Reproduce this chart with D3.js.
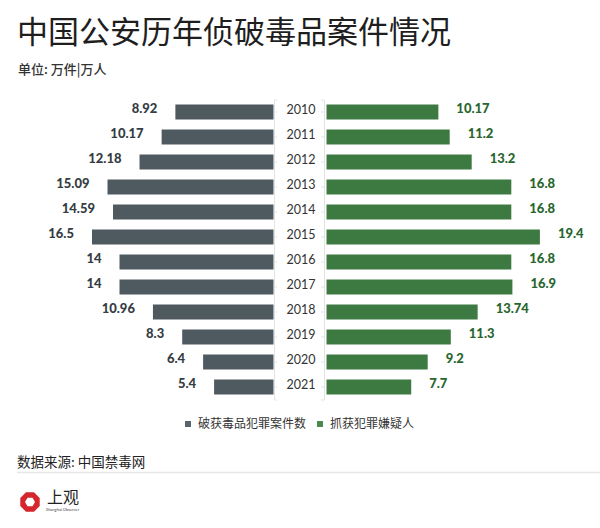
<!DOCTYPE html>
<html><head><meta charset="utf-8">
<script src="https://cdn.jsdelivr.net/npm/d3@7"></script>
<style>
html,body{margin:0;padding:0;background:#fff;}
svg{display:block;}
</style></head>
<body>
<svg id="chart" width="600" height="528"></svg>
<script>
const years = ["2010","2011","2012","2013","2014","2015","2016","2017","2018","2019","2020","2021"];
const cases = [8.92,10.17,12.18,15.09,14.59,16.5,14,14,10.96,8.3,6.4,5.4];
const suspects = [10.17,11.2,13.2,16.8,16.8,19.4,16.8,16.9,13.74,11.3,9.2,7.7];
const caseLabels = ["8.92","10.17","12.18","15.09","14.59","16.5","14","14","10.96","8.3","6.4","5.4"];
const suspectLabels = ["10.17","11.2","13.2","16.8","16.8","19.4","16.8","16.9","13.74","11.3","9.2","7.7"];
const seriesNames = ["破获毒品犯罪案件数","抓获犯罪嫌疑人"];
const title = "中国公安历年侦破毒品案件情况";
const subtitle = "单位: 万件|万人";
const source = "数据来源: 中国禁毒网";

const svg = d3.select("#chart");
const cjk = "'Noto Sans CJK SC','Noto Sans',sans-serif";
const num = "Lato,'Open Sans',sans-serif";
const grayBar = "#4e5a60", greenBar = "#3d7a42";
const grayText = "#353c43", greenText = "#28662e";

svg.append("text").attr("x",17).attr("y",43).attr("font-family",cjk).attr("font-size",31)
  .attr("fill","#1e1e1e").text(title);
svg.append("text").attr("x",18).attr("y",74).attr("font-family",cjk).attr("font-size",13)
  .attr("fill","#333").attr("font-weight",500).text(subtitle);

const y = d3.scaleBand().domain(years).range([99.5,399.5]).paddingInner(0.4).paddingOuter(0.2);
const xL = d3.scaleLinear().domain([0,20]).range([273.5,53.5]);
const xR = d3.scaleLinear().domain([0,20]).range([326.5,546.5]);

// axes lines (faint)
const axL = d3.axisRight(y).tickSize(3).tickFormat("");
const gL = svg.append("g").attr("transform","translate(274,0)").call(axL);
const axR = d3.axisLeft(y).tickSize(3).tickFormat("");
const gR = svg.append("g").attr("transform","translate(324,0)").call(axR);
[gL,gR].forEach(g=>{g.selectAll("path,line").attr("stroke","#e3e3e3");});

svg.append("g").selectAll("rect").data(cases).join("rect")
  .attr("x",d=>xL(d)).attr("y",(d,i)=>y(years[i]))
  .attr("width",d=>xL(0)-xL(d)).attr("height",y.bandwidth()).attr("fill",grayBar);
svg.append("g").selectAll("rect").data(suspects).join("rect")
  .attr("x",xR(0)).attr("y",(d,i)=>y(years[i]))
  .attr("width",d=>xR(d)-xR(0)).attr("height",y.bandwidth()).attr("fill",greenBar);

svg.append("g").selectAll("text").data(cases).join("text")
  .attr("x",d=>xL(d)-18).attr("y",(d,i)=>y(years[i])+8.5)
  .attr("text-anchor","end").attr("font-family",num).attr("font-weight",900)
  .attr("font-size",13).attr("fill",grayText).text((d,i)=>caseLabels[i]);
svg.append("g").selectAll("text").data(suspects).join("text")
  .attr("x",d=>xR(d)+18).attr("y",(d,i)=>y(years[i])+8.5)
  .attr("text-anchor","start").attr("font-family",num).attr("font-weight",900)
  .attr("font-size",13).attr("fill",greenText).text((d,i)=>suspectLabels[i]);
svg.append("g").selectAll("text").data(years).join("text")
  .attr("x",301).attr("y",d=>y(d)+9)
  .attr("text-anchor","middle").attr("font-family",num)
  .attr("font-size",12.5).attr("fill","#333").text(d=>d);

// legend
const leg = [{n:seriesNames[0],c:"#5a656b",x:185},{n:seriesNames[1],c:"#4a8a4e",x:317}];
leg.forEach(l=>{
  svg.append("rect").attr("x",l.x).attr("y",421).attr("width",6).attr("height",6).attr("fill",l.c);
  svg.append("text").attr("x",l.x+13).attr("y",427.5).attr("font-family",cjk).attr("font-size",12)
    .attr("fill","#333").text(l.n);
});

// source
svg.append("text").attr("x",17).attr("y",467).attr("font-family",cjk).attr("font-size",13.5)
  .attr("fill","#222").text(source);
svg.append("line").attr("x1",17).attr("x2",600).attr("y1",472.5).attr("y2",472.5)
  .attr("stroke","#e6e6e6").attr("stroke-width",1.5);

// logo
const lg = svg.append("g").attr("transform","translate(30,502)");
const oct = d3.range(8).map(i=>{const a=Math.PI/8+i*Math.PI/4;return [10.5*Math.cos(a),10.5*Math.sin(a)];});
const hex = d3.range(6).map(i=>{const a=i*Math.PI/3;return [5*Math.cos(a),5*Math.sin(a)];});
lg.append("path").attr("d","M"+oct.join("L")+"Z M"+hex.reverse().join("L")+"Z")
  .attr("fill","#d4262c").attr("fill-rule","evenodd");
svg.append("text").attr("x",47).attr("y",503).attr("font-family","'Noto Sans CJK SC',serif")
  .attr("font-size",16).attr("fill","#222").text("上观");
svg.append("text").attr("x",46).attr("y",511).attr("font-family",num)
  .attr("font-size",4).attr("fill","#444").text("Shanghai Observer");
</script>
</body></html>
